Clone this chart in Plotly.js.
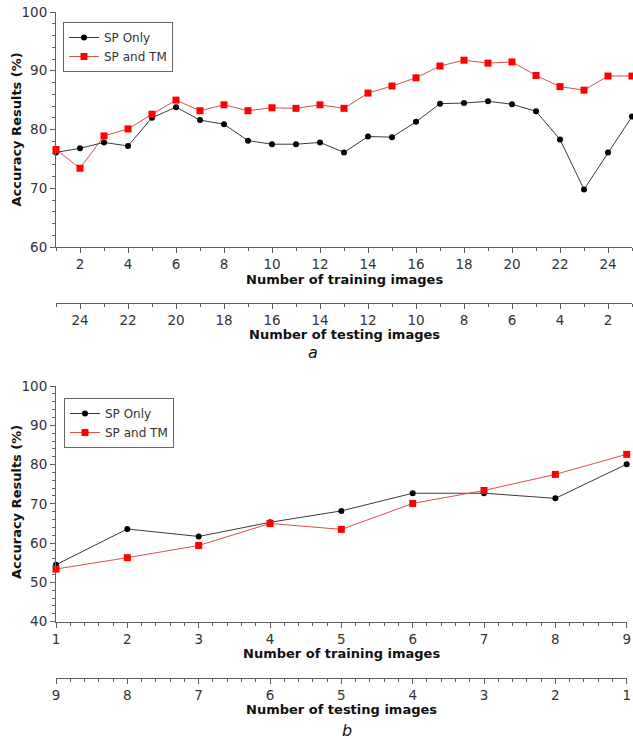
<!DOCTYPE html>
<html>
<head>
<meta charset="utf-8">
<script src="https://cdn.plot.ly/plotly-3.0.1.min.js"></script>
<style>html,body{margin:0;padding:0;background:#fff;}#chart{width:633px;height:739px;}</style>
</head>
<body>
<div id="chart"></div>
<script>
// ---- Data (a) ----
const trainingA = [1,2,3,4,5,6,7,8,9,10,11,12,13,14,15,16,17,18,19,20,21,22,23,24,25];
const testingA  = [25,24,23,22,21,20,19,18,17,16,15,14,13,12,11,10,9,8,7,6,5,4,3,2,1];
const spOnlyA = [76.1,76.8,77.8,77.2,82.0,83.8,81.6,80.9,78.1,77.5,77.5,77.8,76.1,78.8,78.7,81.3,84.4,84.5,84.8,84.3,83.1,78.3,69.8,76.1,82.2];
const spTmA   = [76.6,73.4,78.9,80.1,82.6,85.0,83.2,84.2,83.2,83.7,83.6,84.2,83.6,86.2,87.4,88.8,90.8,91.8,91.3,91.5,89.2,87.3,86.7,89.1,89.1];

// ---- Data (b) ----
const trainingB = [1,2,3,4,5,6,7,8,9];
const testingB  = [9,8,7,6,5,4,3,2,1];
const spOnlyB = [54.5,63.6,61.7,65.3,68.2,72.7,72.7,71.4,80.1];
const spTmB   = [53.4,56.3,59.4,65.0,63.5,70.1,73.4,77.5,82.6];

const seriesNames = ['SP Only','SP and TM'];
const panelLabels = ['a','b'];
const xTitleTrain = 'Number of training images';
const xTitleTest = 'Number of testing images';
const yTitle = 'Accuracy Results (%)';

const FONT = 'DejaVu Sans, Verdana, sans-serif';
const AXC = '#606060';
const TXT = '#333333';

const blackLine = {color:'#3a3a3a', width:1};
const redLine = {color:'#d85050', width:1};
const blackMarker = {symbol:'circle', size:6, color:'#000000'};
const redMarker = {symbol:'square', size:7, color:'#ff0000'};

const traces = [
  {x:trainingA, y:spOnlyA, name:seriesNames[0], mode:'lines+markers', line:blackLine, marker:blackMarker, xaxis:'x', yaxis:'y', legend:'legend', cliponaxis:false},
  {x:trainingA, y:spTmA, name:seriesNames[1], mode:'lines+markers', line:redLine, marker:redMarker, xaxis:'x', yaxis:'y', legend:'legend', cliponaxis:false},
  {x:testingA, y:spOnlyA, mode:'markers', marker:{opacity:0}, xaxis:'x3', yaxis:'y', showlegend:false, hoverinfo:'skip'},
  {x:trainingB, y:spOnlyB, name:seriesNames[0], mode:'lines+markers', line:blackLine, marker:blackMarker, xaxis:'x2', yaxis:'y2', legend:'legend2', cliponaxis:false},
  {x:trainingB, y:spTmB, name:seriesNames[1], mode:'lines+markers', line:redLine, marker:redMarker, xaxis:'x2', yaxis:'y2', legend:'legend2', cliponaxis:false},
  {x:testingB, y:spOnlyB, mode:'markers', marker:{opacity:0}, xaxis:'x4', yaxis:'y2', showlegend:false, hoverinfo:'skip'}
];

function ax(extra){
  return Object.assign({
    showline:true, linecolor:AXC, linewidth:1, showgrid:false, zeroline:false,
    ticks:'outside', ticklen:5, tickcolor:AXC, tickwidth:1,
    tickfont:{family:FONT, size:13.5, color:TXT}, fixedrange:true
  }, extra);
}

const domA = [56/633, 632/633];
const domB = [56/633, 626.7/633];
const yDomA = [1-247/739, 1-12/739];
const yDomB = [1-621.7/739, 1-386/739];

const boldFont = {family:FONT, size:13, color:'#111', weight:'bold'};

function ann(text, x, y, font, extra){
  return Object.assign({text:text, x:x, y:y, xref:'paper', yref:'paper', showarrow:false, xanchor:'center', yanchor:'middle', font:font}, extra||{});
}

const legendBase = {xanchor:'left', yanchor:'top', bgcolor:'#ffffff', bordercolor:'#666', borderwidth:1, font:{family:FONT, size:12, color:TXT}, itemwidth:30, tracegroupgap:0};

const layout = {
  width:633, height:739,
  margin:{l:0,r:0,t:0,b:0},
  paper_bgcolor:'#ffffff', plot_bgcolor:'#ffffff',
  font:{family:FONT, size:13, color:TXT},
  xaxis: ax({domain:domA, anchor:'y', range:[1,25], tick0:0, dtick:2, minor:{dtick:1, ticklen:3, ticks:'outside', tickcolor:AXC}}),
  yaxis: ax({domain:yDomA, anchor:'x', range:[60,100], tick0:0, dtick:10, minor:{dtick:2, ticklen:3, ticks:'outside', tickcolor:AXC}}),
  xaxis3: ax({overlaying:'x', anchor:'free', position:1-303/739, side:'bottom', range:[25,1], tick0:0, dtick:2, minor:{dtick:1, ticklen:3, ticks:'outside', tickcolor:AXC}}),
  xaxis2: ax({domain:domB, anchor:'y2', range:[1,9], tick0:0, dtick:1, minor:{dtick:0.2, ticklen:3, ticks:'outside', tickcolor:AXC}}),
  yaxis2: ax({domain:yDomB, anchor:'x2', range:[40,100], tick0:0, dtick:10, minor:{dtick:2, ticklen:3, ticks:'outside', tickcolor:AXC}}),
  xaxis4: ax({overlaying:'x2', anchor:'free', position:1-678/739, side:'bottom', range:[9,1], tick0:0, dtick:1, minor:{dtick:0.2, ticklen:3, ticks:'outside', tickcolor:AXC}}),
  legend: Object.assign({x:63/633, y:1-22/739}, legendBase),
  legend2: Object.assign({x:64/633, y:1-398/739}, legendBase),
  annotations: [
    ann(xTitleTrain, (domA[0]+domA[1])/2, 1-279/739, boldFont),
    ann(xTitleTest, (domA[0]+domA[1])/2, 1-334/739, boldFont),
    ann(yTitle, 16/633, 1-129.5/739, boldFont, {textangle:-90}),
    ann(panelLabels[0], 313/633, 1-352/739, {family:FONT, size:16, color:'#111', style:'italic'}),
    ann(xTitleTrain, (domB[0]+domB[1])/2, 1-653/739, boldFont),
    ann(xTitleTest, (domB[0]+domB[1])/2, 1-709/739, boldFont),
    ann(yTitle, 16/633, 1-502/739, boldFont, {textangle:-90}),
    ann(panelLabels[1], 347/633, 1-730/739, {family:FONT, size:16, color:'#111', style:'italic'})
  ]
};

Plotly.newPlot('chart', traces, layout, {displayModeBar:false, staticPlot:true});
</script>
</body>
</html>
